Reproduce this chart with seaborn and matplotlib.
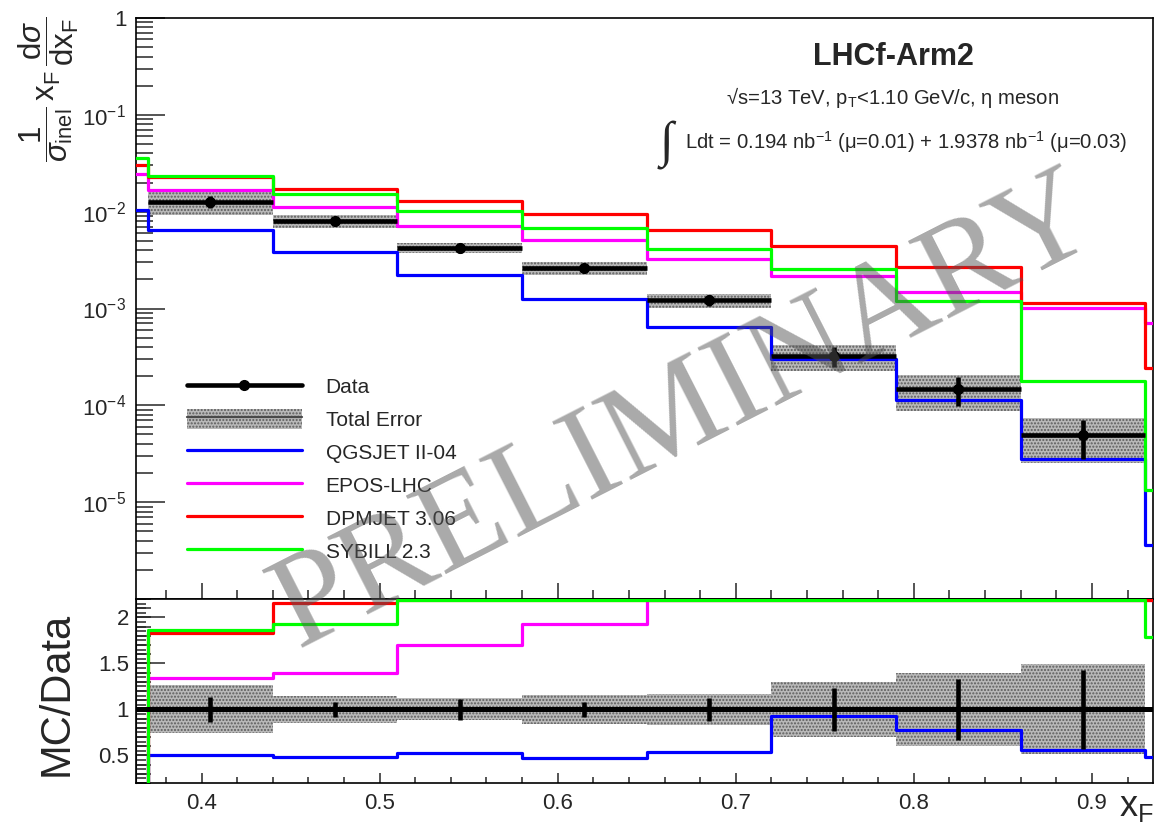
import numpy as np
import pandas as pd
import matplotlib
matplotlib.use("Agg")
import matplotlib.pyplot as plt
from matplotlib.lines import Line2D
from matplotlib.patches import Patch
from matplotlib.ticker import (FixedLocator, FixedFormatter, LogLocator,
                               MultipleLocator, NullFormatter, NullLocator)
import seaborn as sns

# x_F binning (0.07 wide bins)
bin_edges = [0.30, 0.37, 0.44, 0.51, 0.58, 0.65, 0.72, 0.79, 0.86, 0.93, 1.00]

# measured spectrum; the first and last bins carry no published point
data_values = [0.0, 0.01259, 0.00794, 0.00422, 0.00263, 0.00121,
               3.22e-4, 1.46e-4, 4.94e-5, 7.5e-6]
stat_rel_err = [np.nan, 0.14, 0.085, 0.11, 0.085, 0.127, 0.23, 0.33, 0.43, np.nan]
total_rel_err = [np.nan, 0.26, 0.15, 0.12, 0.16, 0.17, 0.30, 0.40, 0.49, np.nan]

# model predictions per bin
qgsjet = [0.0105, 0.00641, 0.00387, 0.00222, 0.00124, 6.48e-4,
          3.00e-4, 1.13e-4, 2.77e-5, 3.63e-6]
epos = [0.0245, 0.01686, 0.01107, 0.00718, 0.00508, 0.00322,
        0.00219, 0.00147, 0.00101, 7.13e-4]
dpmjet = [0.0305, 0.0230, 0.01714, 0.01277, 0.00938, 0.00652,
          0.00446, 0.00267, 0.00115, 2.45e-4]
sybill = [0.0358, 0.0235, 0.01534, 0.01017, 0.00673, 0.00416,
          0.00257, 0.00119, 1.78e-4, 1.34e-5]

model_names = ["QGSJET II-04", "EPOS-LHC", "DPMJET 3.06", "SYBILL 2.3"]
model_colors = ["#0000ff", "#ff00ff", "#ff0000", "#00ff00"]
models = [qgsjet, epos, dpmjet, sybill]

sns.set_style("ticks")
plt.rcParams["font.family"] = ["Liberation Sans", "DejaVu Sans"]
plt.rcParams["mathtext.fontset"] = "custom"
plt.rcParams["mathtext.rm"] = "Liberation Sans"
plt.rcParams["mathtext.it"] = "Liberation Sans:italic"
plt.rcParams["mathtext.bf"] = "Liberation Sans:bold"
plt.rcParams["mathtext.sf"] = "Liberation Sans"
plt.rcParams["hatch.linewidth"] = 1.0

W, H = 1155, 826
fig = plt.figure(figsize=(W / 100, H / 100), dpi=100)


def fx(px):
    return px / W


def fy(py):
    return 1 - py / H


ax = fig.add_axes([fx(136), fy(599), fx(1153) - fx(136), fy(18) - fy(599)])
axr = fig.add_axes([fx(136), fy(783), fx(1153) - fx(136), fy(599) - fy(783)])

edges = np.array(bin_edges)
lefts = edges[:-1]
widths = np.diff(edges)
centers = lefts + widths / 2
data = np.array(data_values)
stat = np.array(stat_rel_err)
tot = np.array(total_rel_err)
shown = np.isfinite(stat)

band_face = "#b9b9b9"
band_hatch = "#5c5c5c"
band_kw = dict(facecolor=band_face, edgecolor=band_hatch, hatch=".....",
               linewidth=0, align="edge")
mc_lw = 2.3
data_lw = 3.3
ratio_top = 2.2


def step_hist(values, color, axis):
    frame = pd.DataFrame({"xF": centers, "w": np.asarray(values, dtype=float)})
    sns.histplot(data=frame, x="xF", weights="w", bins=list(bin_edges),
                 element="step", fill=False, color=color, linewidth=mc_lw,
                 ax=axis, zorder=3)


# ---------------- spectrum panel ----------------
ax.bar(lefts[shown], (2 * tot * data)[shown], bottom=(data * (1 - tot))[shown],
       width=widths[shown], zorder=1, **band_kw)

for vals, col in zip(models, model_colors):
    step_hist(vals, col, ax)

ax.errorbar(centers[shown], data[shown], xerr=widths[shown] / 2,
            yerr=(stat * data)[shown], fmt="o", color="k", ms=7,
            elinewidth=data_lw, capsize=0, zorder=5)

ax.set_yscale("log")
ax.set_xlim(0.3632, 0.9343)
ax.set_ylim(1e-6, 1)
ax.set_xlabel("")
ax.set_ylabel("")

ax.yaxis.set_major_locator(FixedLocator([1e-5, 1e-4, 1e-3, 1e-2, 1e-1, 1]))
ax.yaxis.set_major_formatter(FixedFormatter(
    [r"$10^{-5}$", r"$10^{-4}$", r"$10^{-3}$", r"$10^{-2}$", r"$10^{-1}$", "1"]))
ax.yaxis.set_minor_locator(LogLocator(base=10, subs=np.arange(2, 10), numticks=30))
ax.yaxis.set_minor_formatter(NullFormatter())
ax.xaxis.set_major_locator(MultipleLocator(0.1))
ax.xaxis.set_minor_locator(MultipleLocator(0.02))
ax.tick_params(axis="x", which="both", direction="in", top=False, bottom=True,
               labelbottom=False, width=1.1)
ax.tick_params(axis="x", which="major", length=11.5)
ax.tick_params(axis="x", which="minor", length=6.5)
ax.tick_params(axis="y", which="both", direction="in", left=True, right=False,
               labelsize=16, pad=7, width=1.1)
ax.tick_params(axis="y", which="major", length=21)
ax.tick_params(axis="y", which="minor", length=12)

# ---------------- ratio panel ----------------
axr.bar(lefts[shown], (2 * tot)[shown], bottom=(1 - tot)[shown],
        width=widths[shown], zorder=1, **band_kw)
axr.axhline(1, color="k", lw=3.6, zorder=4)

safe_data = np.where(data > 0, data, 1.0)
for vals, col in zip(models, model_colors):
    r = np.where(data > 0, np.asarray(vals) / safe_data, 0.0)
    r = np.minimum(r, ratio_top - 0.012)
    step_hist(r, col, axr)

axr.errorbar(centers[shown], np.ones(shown.sum()), yerr=stat[shown], fmt="none",
             ecolor="k", elinewidth=data_lw, capsize=0, zorder=5)

axr.set_xlim(0.3632, 0.9343)
axr.set_ylim(0.2, ratio_top)
axr.set_xlabel("")
axr.set_ylabel("")
axr.xaxis.set_major_locator(MultipleLocator(0.1))
axr.xaxis.set_minor_locator(MultipleLocator(0.02))
axr.yaxis.set_major_locator(FixedLocator([0.5, 1, 1.5, 2]))
axr.yaxis.set_major_formatter(FixedFormatter(["0.5", "1", "1.5", "2"]))
axr.yaxis.set_minor_locator(MultipleLocator(0.05))
axr.tick_params(axis="x", which="both", direction="in", top=False, bottom=True,
                labelsize=16, pad=7, width=1.1)
axr.tick_params(axis="x", which="major", length=7)
axr.tick_params(axis="x", which="minor", length=4)
axr.tick_params(axis="y", which="both", direction="in", left=True, right=False,
                labelsize=16, pad=5, width=1.1)
axr.tick_params(axis="y", which="major", length=21)
axr.tick_params(axis="y", which="minor", length=7)

# intermediate 0.1 ticks on the ratio axis
sec = axr.secondary_yaxis("left")
sec.yaxis.set_major_locator(FixedLocator(np.round(np.arange(0.2, 2.21, 0.1), 2)))
sec.yaxis.set_minor_locator(NullLocator())
sec.tick_params(axis="y", which="major", direction="in", length=11, width=1.1,
                labelleft=False)

for a in (ax, axr):
    for s in a.spines.values():
        s.set_linewidth(1.2)
        s.set_color("k")
        s.set_visible(True)

# ---------------- legend ----------------
handles = [
    Line2D([], [], color="k", lw=data_lw, marker="o", ms=7),
    (Patch(facecolor=band_face, edgecolor=band_hatch, hatch=".....", lw=0),
     Line2D([], [], color="#4a4a4a", lw=1.6)),
] + [Line2D([], [], color=c, lw=mc_lw) for c in model_colors]
labels = ["Data", "Total Error"] + model_names
ax.legend(handles, labels, loc="upper left", bbox_to_anchor=(fx(187), fy(376)),
          bbox_transform=fig.transFigure, frameon=False, fontsize=15,
          handlelength=5.5, handletextpad=1.15, labelspacing=0.57, borderpad=0,
          borderaxespad=0, handleheight=1.1)

# ---------------- labels and annotations ----------------
fig.text(fx(49), fy(16),
         r"$\dfrac{1}{\sigma_{\mathrm{inel}}}\,\mathrm{x}_{\mathrm{F}}\,"
         r"\dfrac{\mathrm{d}\sigma}{\mathrm{dx}_{\mathrm{F}}}$",
         rotation=90, ha="center", va="top", fontsize=22.5)
fig.text(fx(57), fy(694), "MC/Data", rotation=90, ha="center", va="center",
         fontsize=30)
fig.text(fx(1154), fy(824), r"$\mathrm{x}_{\mathrm{F}}$", ha="right",
         va="bottom", fontsize=26)

fig.text(fx(893), fy(57), "LHCf-Arm2", fontsize=22, fontweight="bold",
         ha="center", va="center")
fig.text(fx(892), fy(98),
         r"√s=13 TeV, p$_{\mathrm{T}}$<1.10 GeV/c, η meson",
         fontsize=14.6, ha="center", va="center")
fig.text(fx(685), fy(142),
         r"Ldt = 0.194 nb$^{\mathrm{-1}}$ (μ=0.01) + 1.9378 nb$^{\mathrm{-1}}$ (μ=0.03)",
         fontsize=14.6, ha="left", va="center")
fig.text(fx(666), fy(145), "∫", family=["Liberation Serif", "DejaVu Serif"],
         fontsize=36, ha="center", va="center")

fig.text(fx(700), fy(442), "PRELIMINARY", family=["Liberation Serif", "DejaVu Serif"],
         fontsize=96, color="#545454", alpha=0.5, rotation=27,
         rotation_mode="anchor", ha="center", va="baseline", zorder=20)

fig.savefig("out.png", dpi=100)
